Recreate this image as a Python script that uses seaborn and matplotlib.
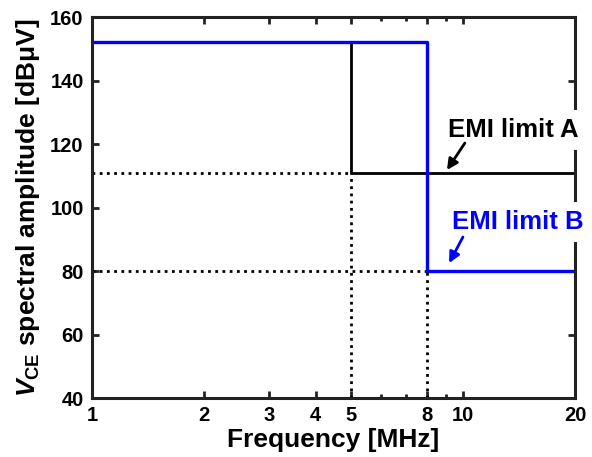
import matplotlib
matplotlib.use("Agg")
import matplotlib.pyplot as plt
import matplotlib.ticker as mticker
import seaborn as sns

# Step profiles of the two EMI limits (frequency in MHz, level in dBuV)
freq_a = [1, 5, 5, 20]
level_a = [152, 152, 111, 111]
freq_b = [1, 8, 8, 20]
level_b = [152, 152, 80, 80]

# Guide lines marking the corner frequencies / levels
guide_h_freq = [1, 5]
guide_h_level = [111, 111]
guide_h2_freq = [1, 8]
guide_h2_level = [80, 80]
guide_v_freq = [5, 5]
guide_v_level = [40, 111]
guide_v2_freq = [8, 8]
guide_v2_level = [40, 80]

x_ticks = [1, 2, 3, 4, 5, 8, 10, 20]
x_minor = [6, 7, 9]
y_ticks = [40, 60, 80, 100, 120, 140, 160]

sns.set_theme(style="ticks")
plt.rcParams["font.family"] = ["Liberation Sans", "DejaVu Sans"]
plt.rcParams["font.weight"] = "bold"
plt.rcParams["mathtext.fontset"] = "custom"
plt.rcParams["mathtext.it"] = "Liberation Sans:bold:italic"
plt.rcParams["mathtext.rm"] = "Liberation Sans:bold"
plt.rcParams["mathtext.bf"] = "Liberation Sans:bold"

ink = "#222222"
blue = "#0000ff"

fig = plt.figure(figsize=(5.92, 4.57), dpi=100)
ax = fig.add_axes([0.1554, 0.1291, 0.8159, 0.8337])

dot_kw = dict(color="black", linewidth=2.0, linestyle=(0, (1, 1.6)), ax=ax,
              sort=False, estimator=None, legend=False)
sns.lineplot(x=guide_h_freq, y=guide_h_level, **dot_kw)
sns.lineplot(x=guide_h2_freq, y=guide_h2_level, **dot_kw)
sns.lineplot(x=guide_v_freq, y=guide_v_level, **dot_kw)
sns.lineplot(x=guide_v2_freq, y=guide_v2_level, **dot_kw)

sns.lineplot(x=freq_a, y=level_a, color="black", linewidth=2.0, sort=False,
             estimator=None, ax=ax, legend=False)
sns.lineplot(x=freq_b, y=level_b, color=blue, linewidth=2.4, sort=False,
             estimator=None, ax=ax, legend=False)

ax.set_xscale("log")
ax.set_xlim(1, 20)
ax.set_ylim(40, 160)
ax.xaxis.set_major_locator(mticker.FixedLocator(x_ticks))
ax.xaxis.set_major_formatter(mticker.FixedFormatter([str(t) for t in x_ticks]))
ax.xaxis.set_minor_locator(mticker.FixedLocator(x_minor))
ax.xaxis.set_minor_formatter(mticker.NullFormatter())
ax.set_yticks(y_ticks)

for s in ax.spines.values():
    s.set_visible(True)
    s.set_linewidth(2.2)
    s.set_color(ink)

ax.tick_params(axis="both", which="major", direction="in", length=5, width=2,
               color=ink, labelsize=14.5, pad=6, top=True, right=True,
               labelcolor="black")
ax.tick_params(axis="both", which="minor", direction="in", length=3, width=2,
               color=ink, top=True, right=True)
for lab in ax.get_xticklabels() + ax.get_yticklabels():
    lab.set_fontweight("bold")

ax.set_xlabel("Frequency [MHz]", fontsize=19, fontweight="bold", labelpad=2,
              color="black")
ax.set_ylabel(r"$\mathit{V}_{\mathrm{CE}}$ spectral amplitude [dBμV]",
              fontsize=19, fontweight="bold", labelpad=6, color="black")

box = dict(facecolor="white", edgecolor="none", pad=6)
ax.text(9.1, 124.4, "EMI limit A", fontsize=18.5, fontweight="bold",
        color="black", ha="left", va="center", bbox=box, clip_on=False, zorder=3)
ax.text(9.33, 95.4, "EMI limit B", fontsize=18.5, fontweight="bold",
        color=blue, ha="left", va="center", bbox=box, clip_on=False, zorder=3)

ax.annotate("", xy=(9.04, 111.8), xytext=(10.1, 120.3),
            arrowprops=dict(arrowstyle="-|>", lw=2, color="black",
                            mutation_scale=16, shrinkA=0, shrinkB=0),
            zorder=5)
ax.annotate("", xy=(9.16, 82.5), xytext=(9.98, 90.7),
            arrowprops=dict(arrowstyle="-|>", lw=2, color=blue,
                            mutation_scale=16, shrinkA=0, shrinkB=0),
            zorder=5)

fig.savefig("out.png", dpi=100)
